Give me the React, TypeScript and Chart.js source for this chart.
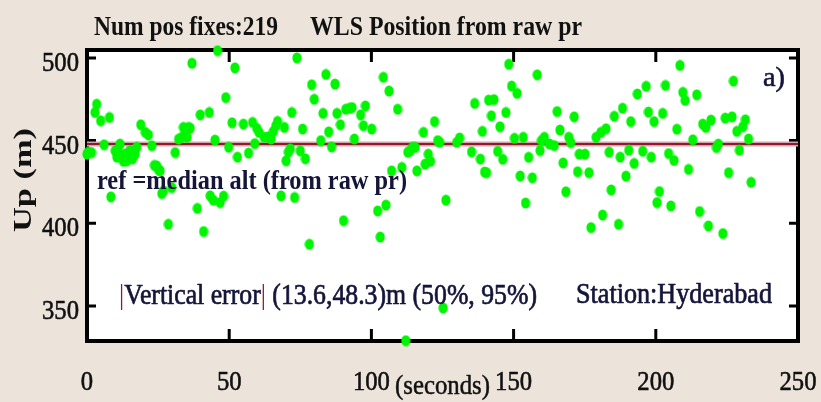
import React, { useEffect, useRef } from 'react';
import { Chart, registerables } from 'chart.js';

Chart.register(...registerables);

// ---- data ----
const xSeconds = [0.0,0.5,1.6,2.8,3.4,4.8,6.0,7.9,8.4,9.9,10.5,11.0,11.6,12.3,12.8,13.5,14.0,15.1,16.0,16.9,17.5,18.9,20.5,21.6,22.8,23.7,24.5,25.1,25.7,26.3,26.9,28.6,29.8,31.0,32.2,33.3,33.9,34.5,35.2,35.7,36.3,36.9,38.8,39.8,41.0,43.0,43.3,44.4,45.0,45.9,46.8,48.0,48.8,49.8,51.0,52.0,52.9,55.0,56.8,58.2,59.0,59.7,60.5,62.3,63.7,64.7,65.5,66.4,67.0,68.2,69.4,70.0,70.8,71.5,72.0,73.0,73.8,75.0,75.8,76.8,78.2,79.0,79.9,82.2,83.0,84.0,85.0,86.0,87.2,87.9,89.1,90.2,91.0,92.2,93.2,94.0,96.2,97.2,97.9,100.1,102.2,103.1,104.2,105.1,106.2,107.1,109.2,110.7,112.1,112.8,113.6,114.5,115.4,116.0,118.3,118.9,120.0,120.8,122.2,123.3,124.0,125.2,126.2,130.0,131.0,135.2,136.3,138.3,139.0,139.8,140.5,141.2,142.2,143.1,144.4,145.2,146.2,147.3,148.3,149.3,150.3,151.2,152.3,153.4,154.2,155.3,156.6,158.3,159.3,159.8,160.8,162.6,164.3,165.3,166.3,167.4,168.4,169.4,170.1,171.3,172.5,173.1,175.1,176.5,177.2,179.0,180.7,181.3,182.5,183.6,184.3,185.4,186.9,187.5,188.3,189.5,190.5,191.2,192.4,193.5,195.4,196.6,197.4,198.4,199.4,200.4,201.3,202.4,203.4,204.5,205.3,206.4,207.4,208.5,209.5,210.3,211.5,213.0,214.4,215.4,216.5,217.6,218.5,219.4,221.3,222.0,223.6,224.4,225.6,226.8,227.3,228.5,229.4,230.6,231.5,232.6,233.5];

const upMeters = [441.8,443,442.8,467,472,462,447.5,464,416,443.8,440,443,447.9,440,437.5,442,437.8,444,439,441.8,446,459.6,455,453.5,446.9,435,434.7,432.5,431.7,418,419.6,399.4,421.6,442.8,450.9,452,458,457,452,458,457.5,496.8,409,465.6,395,467,416.6,414,450.3,504.4,412.5,416.4,476,446,460.8,494,440,460,442.5,461,448.2,457.4,455,452,452.3,451,455.5,459,461.6,416.6,458,437.8,443,445,467,415.6,500,443.8,457,439,387.3,483.8,475,450,466.5,490,455.3,446.2,484.2,466.5,459.6,401.6,469,469.5,470,451,465.6,459,471,457,407.5,391.7,488.3,411,480,431.7,469,433.8,329,443,443.8,446,445.9,431.7,455,435.8,441.8,437.5,461.5,450,449,348.8,414,449,451.6,443.2,472.5,438.8,455.6,431,430.6,474.5,465,474.8,443.5,458.4,438.7,467,496.2,483,451.4,478.6,428.6,452,412.3,439.9,427.5,489.8,444,450,452,448,447,467.6,456.4,436.5,419.1,452,448.8,464.4,431.2,441.8,441.8,430.6,397.4,452,455,405,457.2,443,420.2,464.7,399.4,440,469.6,428.5,444.2,461.5,436.2,478.2,443.6,482.8,467.3,440,461.5,412.5,419.2,466.5,483.4,442.2,410.5,438,456.9,495.5,479.2,474.3,432.6,450.5,477.7,407.1,460,458,398.4,462.4,445.8,447.9,393.8,463.6,430.6,464.4,486,455.6,444.2,458.4,462.6,451,424.8];

const refAltitude = 448;
const xTickValues = [0, 50, 100, 150, 200, 250];
const yTickValues = [350, 400, 450, 500];
const xRange = [0, 250];
const yRange = [328.8, 504.8];

const titleLeft = 'Num pos fixes:219';
const titleRight = 'WLS Position from raw pr';
const panelLabel = 'a)';
const refNote = 'ref =median alt (from raw pr)';
const errorNote = '|Vertical error| (13.6,48.3)m (50%, 95%)';
const stationNote = 'Station:Hyderabad';
const xTitle = '(seconds)';
const yTitle = 'Up (m)';

const BG = '#ECE4DA';
const SERIF = '"Liberation Serif", "Times New Roman", serif';
const NAVY = '#15153a';
const MAROON = '#8e1a30';

function drawText(
  ctx: CanvasRenderingContext2D,
  s: string,
  x: number,
  y: number,
  font: string,
  opts: {
    w?: number;
    sx?: number;
    sy?: number;
    align?: CanvasTextAlign;
    color?: string;
    stroke?: number;
    accent?: { ch: string; color: string };
  } = {}
) {
  ctx.save();
  ctx.font = font;
  const m = ctx.measureText(s).width;
  const sx = opts.w ? opts.w / m : opts.sx ?? 1;
  ctx.translate(x, y);
  ctx.scale(sx, opts.sy ?? 1);
  ctx.textBaseline = 'alphabetic';
  const color = opts.color ?? '#111';
  const align = opts.align ?? 'left';
  const start = align === 'center' ? -m / 2 : align === 'right' ? -m : 0;
  ctx.textAlign = 'left';
  ctx.lineJoin = 'round';
  // draw segment by segment so that accent characters can have their own colour
  let offset = start;
  const parts = opts.accent ? s.split(new RegExp(`(\\${opts.accent.ch})`)) : [s];
  parts.forEach((p) => {
    if (!p) return;
    const isAccent = opts.accent && p === opts.accent.ch;
    const c = isAccent ? opts.accent!.color : color;
    ctx.fillStyle = c;
    ctx.fillText(p, offset, 0);
    if (opts.stroke && !isAccent) {
      ctx.strokeStyle = c;
      ctx.lineWidth = opts.stroke;
      ctx.strokeText(p, offset, 0);
    }
    offset += ctx.measureText(p).width;
  });
  ctx.restore();
}

function makeDot(): HTMLCanvasElement {
  const c = document.createElement('canvas');
  c.width = 10;
  c.height = 12;
  const g = c.getContext('2d')!;
  g.fillStyle = '#00f500';
  g.beginPath();
  g.ellipse(5, 6, 4.6, 5.5, 0, 0, Math.PI * 2);
  g.fill();
  return c;
}

const decor = {
  id: 'decor',
  beforeDraw(chart: any) {
    const { ctx, chartArea: a } = chart;
    ctx.save();
    ctx.fillStyle = BG;
    ctx.fillRect(0, 0, chart.width, chart.height);
    ctx.fillStyle = '#ffffff';
    ctx.fillRect(a.left, a.top, a.right - a.left, a.bottom - a.top);
    ctx.restore();
  },
  beforeDatasetsDraw(chart: any) {
    const { ctx, chartArea: a, scales } = chart;
    ctx.save();
    ctx.strokeStyle = '#000';
    ctx.lineWidth = 3;
    ctx.beginPath();
    scales.x.ticks.forEach((t: any) => {
      const px = scales.x.getPixelForValue(t.value);
      ctx.moveTo(px, a.bottom);
      ctx.lineTo(px, a.bottom - 12);
      ctx.moveTo(px, a.top);
      ctx.lineTo(px, a.top + 12);
    });
    scales.y.ticks.forEach((t: any) => {
      const py = scales.y.getPixelForValue(t.value);
      ctx.moveTo(a.left, py);
      ctx.lineTo(a.left + 9, py);
      ctx.moveTo(a.right, py);
      ctx.lineTo(a.right - 9, py);
    });
    ctx.stroke();
    ctx.lineWidth = 4;
    ctx.strokeRect(a.left, a.top, a.right - a.left, a.bottom - a.top);
    ctx.restore();
  },
  afterDraw(chart: any) {
    const { ctx, chartArea: a, scales } = chart;
    const tickFont = `28px ${SERIF}`;
    scales.x.ticks.forEach((t: any) => {
      const px = scales.x.getPixelForValue(t.value);
      drawText(ctx, String(t.value), px, 390, tickFont, { align: 'center', sx: 0.88, stroke: 0.6 });
    });
    scales.y.ticks.forEach((t: any) => {
      const py = scales.y.getPixelForValue(t.value);
      drawText(ctx, String(t.value), a.left - 8, py + 13, tickFont, { align: 'right', sx: 0.88, stroke: 0.6 });
    });
    drawText(ctx, xTitle, 395, 394, `27px ${SERIF}`, { w: 95, stroke: 0.5 });

    // rotated y title
    ctx.save();
    ctx.font = `bold 25px ${SERIF}`;
    const m = ctx.measureText(yTitle).width;
    ctx.translate(31, 180);
    ctx.rotate(-Math.PI / 2);
    ctx.scale(104 / m, 1);
    ctx.textAlign = 'center';
    ctx.fillStyle = '#111';
    ctx.fillText(yTitle, 0, 0);
    ctx.restore();

    drawText(ctx, titleLeft, 94, 35, `bold 28px ${SERIF}`, { w: 184 });
    drawText(ctx, titleRight, 310, 35, `bold 28px ${SERIF}`, { w: 272 });

    drawText(ctx, panelLabel, 763, 86, `28px ${SERIF}`, { w: 22, color: NAVY, stroke: 0.6 });
    drawText(ctx, refNote, 97, 189, `bold 28px ${SERIF}`, { w: 310, color: NAVY });
    drawText(ctx, errorNote, 119, 304, `29px ${SERIF}`, {
      w: 418,
      color: NAVY,
      stroke: 0.7,
      accent: { ch: '|', color: MAROON },
    });
    drawText(ctx, stationNote, 576, 303, `29px ${SERIF}`, { w: 196, color: NAVY, stroke: 0.7 });
  },
};

export default function App() {
  const ref = useRef<HTMLCanvasElement | null>(null);

  useEffect(() => {
    if (!ref.current) return;
    const dot = makeDot();
    const points = xSeconds.map((x, i) => ({ x, y: upMeters[i] }));
    const refLine = [
      { x: xRange[0], y: refAltitude },
      { x: xRange[1], y: refAltitude },
    ];
    const chart = new Chart(ref.current, {
      type: 'scatter',
      data: {
        datasets: [
          {
            label: 'WLS Up',
            data: points,
            pointStyle: dot as any,
            pointRadius: 5,
            clip: false as any,
            order: 0,
          },
          {
            label: 'ref core',
            data: refLine,
            showLine: true,
            borderColor: MAROON,
            borderWidth: 2,
            pointRadius: 0,
            order: 1,
          },
          {
            label: 'ref halo',
            data: refLine,
            showLine: true,
            borderColor: '#d8a2ad',
            borderWidth: 5,
            pointRadius: 0,
            order: 2,
          },
        ],
      },
      options: {
        responsive: false,
        animation: false,
        devicePixelRatio: 1,
        layout: { padding: { left: 0, right: 23, top: 50, bottom: 0 } },
        plugins: { legend: { display: false }, tooltip: { enabled: false }, title: { display: false } },
        scales: {
          x: {
            type: 'linear',
            min: xRange[0],
            max: xRange[1],
            afterBuildTicks: (s: any) => {
              s.ticks = xTickValues.map((v) => ({ value: v }));
            },
            afterFit: (s: any) => {
              s.height = 61;
            },
            ticks: { display: false },
            grid: { display: false },
            border: { display: false },
          },
          y: {
            type: 'linear',
            min: yRange[0],
            max: yRange[1],
            afterBuildTicks: (s: any) => {
              s.ticks = yTickValues.map((v) => ({ value: v }));
            },
            afterFit: (s: any) => {
              s.width = 87;
            },
            ticks: { display: false },
            grid: { display: false },
            border: { display: false },
          },
        },
      },
      plugins: [decor],
    });
    return () => chart.destroy();
  }, []);

  return (
    <div style={{ position: 'absolute', left: 0, top: 0, width: 821, height: 402, background: BG }}>
      <canvas ref={ref} width={821} height={402} style={{ display: 'block', width: 821, height: 402 }} />
    </div>
  );
}
